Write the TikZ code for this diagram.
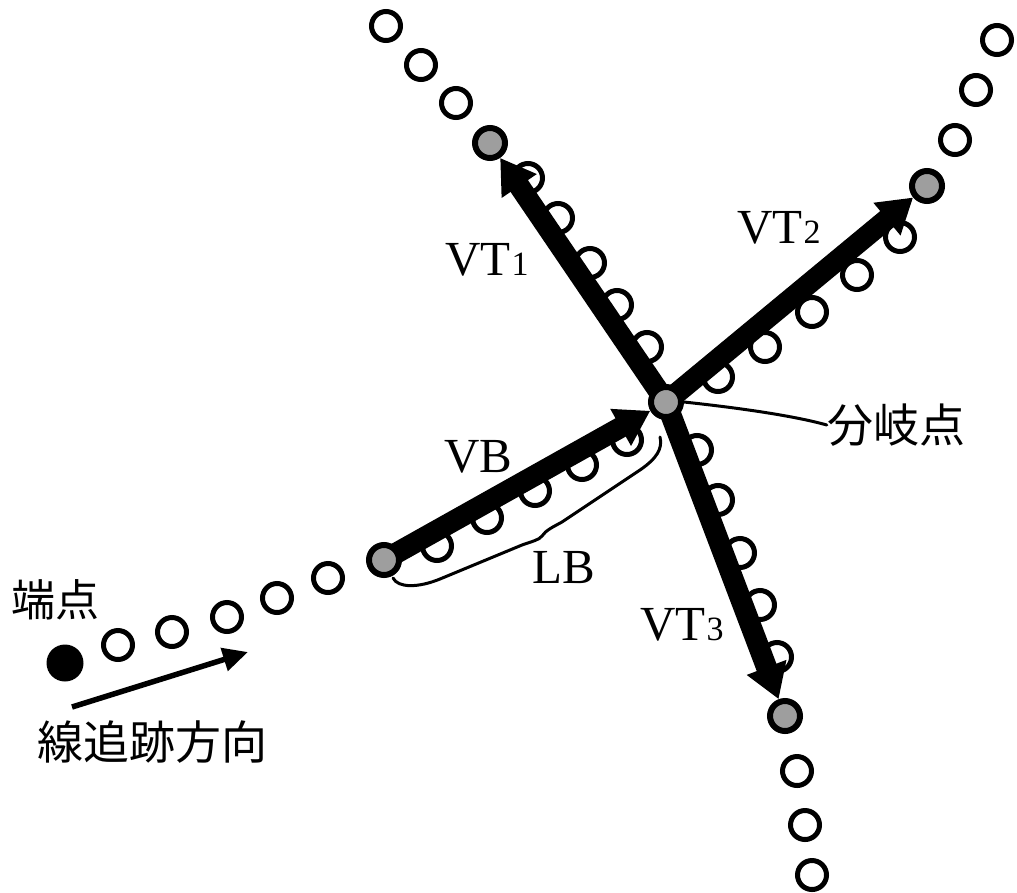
\documentclass[tikz,border=0pt]{standalone}
\usepackage{fontspec}
\setmainfont{Liberation Serif}
\newfontfamily\jpfont{Noto Sans CJK JP}
\usetikzlibrary{arrows.meta}
\pgfdeclarelayer{bg}
\pgfdeclarelayer{fg}
\pgfsetlayers{bg,main,fg}
\tikzset{
  ring/.style={circle, draw=black, line width=5pt, fill=white, minimum size=29pt, inner sep=0pt},
  keypt/.style={circle, draw=black, line width=6pt, fill=black!38, minimum size=30pt, inner sep=0pt},
  endpt/.style={circle, fill=black, minimum size=37pt, inner sep=0pt},
  vec/.style={line width=21pt, -{Triangle[length=34pt,width=40pt]}},
  dirarrow/.style={line width=5.5pt, -{Triangle[length=25pt,width=23pt]}},
  vlabel/.style={font=\fontsize{49pt}{49pt}\selectfont, anchor=base west, inner sep=0pt},
  jlabel/.style={font=\jpfont\fontsize{46pt}{46pt}\selectfont, inner sep=0pt},
  leader/.style={line width=3pt, line cap=round},
}
\newcommand{\idx}[1]{\kern1pt{\fontsize{34pt}{34pt}\selectfont #1}}
\begin{document}
\begin{tikzpicture}[x=1pt,y=-1pt]
\useasboundingbox (0,0) rectangle (1017,892);

% chain of sampled line points (open rings)
\begin{pgfonlayer}{bg}
  \foreach \n/\x/\y in {
      a1/118/645, a2/172/632, a3/227/617, a4/277/598, a5/328/578,
      b1/437/546, b2/487/518, b3/535/491, b4/582/465, b5/627/440,
      c1/647/347, c2/617/305, c3/590/263, c4/558/218, c5/528/178,
      c6/456/103, c7/421/65, c8/386/26,
      d1/718/377, d2/765/347, d3/812/312, d4/857/275, d5/900/237,
      d6/955/140, d7/976/90, d8/997/40,
      e1/697/450, e2/718/500, e3/740/553, e4/760/605, e5/777/657,
      e6/797/771, e7/805/825, e8/812/875}
    \node[ring] (\n) at (\x,\y) {};
\end{pgfonlayer}

% key points: end point, branch start, branch point and vector ends
\begin{pgfonlayer}{fg}
  \node[endpt] (ep) at (65,663) {};
  \node[keypt] (vb) at (384,560) {};
  \node[keypt] (jn) at (666,402) {};
  \node[keypt] (t1) at (490,143) {};
  \node[keypt] (t2) at (927,186) {};
  \node[keypt] (t3) at (785,716) {};
\end{pgfonlayer}

% direction vectors
\draw[vec] (vb.center) -- (jn);
\draw[vec] (jn.center) -- (t1);
\draw[vec] (jn.center) -- (t2);
\draw[vec] (jn.center) -- (t3);

% tracing direction
\coordinate (s0) at (72,707);
\coordinate (s1) at (248,652);
\draw[dirarrow] (s0) -- (s1);

% labels
\node[vlabel] (lvt1) at (445,275) {VT\idx{1}};
\node[vlabel] (lvt2) at (737,243) {VT\idx{2}};
\node[vlabel] (lvt3) at (640,640) {VT\idx{3}};
\node[vlabel] (lvb) at (444,472) {VB};
\node[vlabel] (llb) at (532,583) {LB};
\node[jlabel, font=\jpfont\fontsize{44pt}{44pt}\selectfont] (lep) at (56,600) {端点};
\node[jlabel] (ldir) at (152,742) {線追跡方向};
\node[jlabel] (lbr) at (896,425) {分岐点};

% brace marking the length LB
\draw[leader] (393,578) .. controls (398,588) and (418,588) .. (440,579)
  -- (522,545) .. controls (533,541) and (539,540) .. (542,536)
  .. controls (546,530) and (553,527) .. (562,522)
  -- (640,470) .. controls (656,459) and (663,449) .. (660,437);

% leader to the branch point
\draw[leader] (jn.east) .. controls (740,408) and (795,416) .. (lbr.west);
\end{tikzpicture}
\end{document}
